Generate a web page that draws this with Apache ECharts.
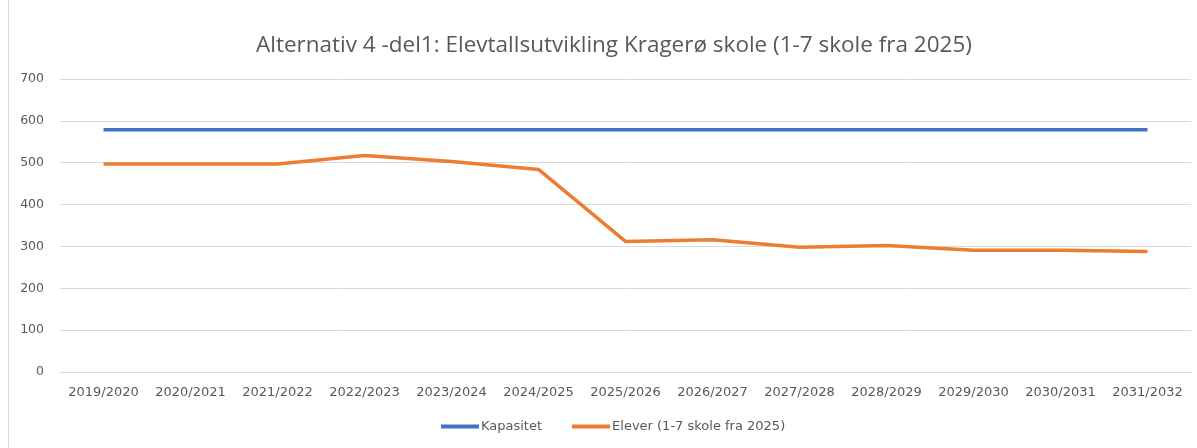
<!DOCTYPE html>
<html><head><meta charset="utf-8">
<script src="https://cdn.jsdelivr.net/npm/echarts@6/dist/echarts.min.js"></script>
<style>html,body{margin:0;padding:0;background:#fff}#c{width:1197px;height:448px}</style>
</head><body><div id="c"></div>
<script>
const categories = ['2019/2020','2020/2021','2021/2022','2022/2023','2023/2024','2024/2025','2025/2026','2026/2027','2027/2028','2028/2029','2029/2030','2030/2031','2031/2032'];
const kapasitet = [579,579,579,579,579,579,579,579,579,579,579,579,579];
const elever = [497,497,497,517,503,484,312,316,298,302,291,291,288];
const yTicks = [0,100,200,300,400,500,600,700];

const chart = echarts.init(document.getElementById('c'));
const txt = '#595959';
chart.setOption({
  animation: false,
  title: {
    text: 'Alternativ 4 -del1: Elevtallsutvikling Kragerø skole (1-7 skole fra 2025)',
    left: 251, top: 29,
    textStyle: {color: txt, fontSize: 22.5, fontWeight: 'normal', fontFamily: 'Open Sans'}
  },
  graphic: [{type: 'rect', shape: {x: 8.5, y: -5, width: 1250, height: 460}, style: {fill: 'none', stroke: '#d9d9d9', lineWidth: 1}, silent: true}],
  legend: {
    bottom: 10, left: 436, itemWidth: 38, itemHeight: 4, itemGap: 30,
    icon: 'rect',
    textStyle: {color: txt, fontSize: 13, fontFamily: 'DejaVu Sans', padding: [0,0,0,-3]},
    data: ['Kapasitet', 'Elever (1-7 skole fra 2025)']
  },
  grid: {left: 60, right: 6, top: 79, bottom: 76},
  xAxis: {
    type: 'category', data: categories, boundaryGap: true,
    axisLine: {lineStyle: {color: '#d9d9d9'}}, axisTick: {show: false},
    axisLabel: {color: txt, fontSize: 13, fontFamily: 'DejaVu Sans', margin: 14, interval: 0}
  },
  yAxis: {
    type: 'value', min: 0, max: 700, interval: 100,
    axisLine: {show: false}, axisTick: {show: false},
    splitLine: {lineStyle: {color: '#d9d9d9'}},
    axisLabel: {color: txt, fontSize: 12.5, fontFamily: 'DejaVu Sans', margin: 16,
      formatter: v => yTicks.includes(v) ? String(v) : ''}
  },
  series: [
    {name: 'Kapasitet', type: 'line', data: kapasitet, symbol: 'none', lineStyle: {width: 3.5, color: '#4472C4'}, itemStyle: {color: '#4472C4'}},
    {name: 'Elever (1-7 skole fra 2025)', type: 'line', data: elever, symbol: 'none', lineStyle: {width: 3.5, color: '#ED7D31'}, itemStyle: {color: '#ED7D31'}}
  ]
});
</script></body></html>
